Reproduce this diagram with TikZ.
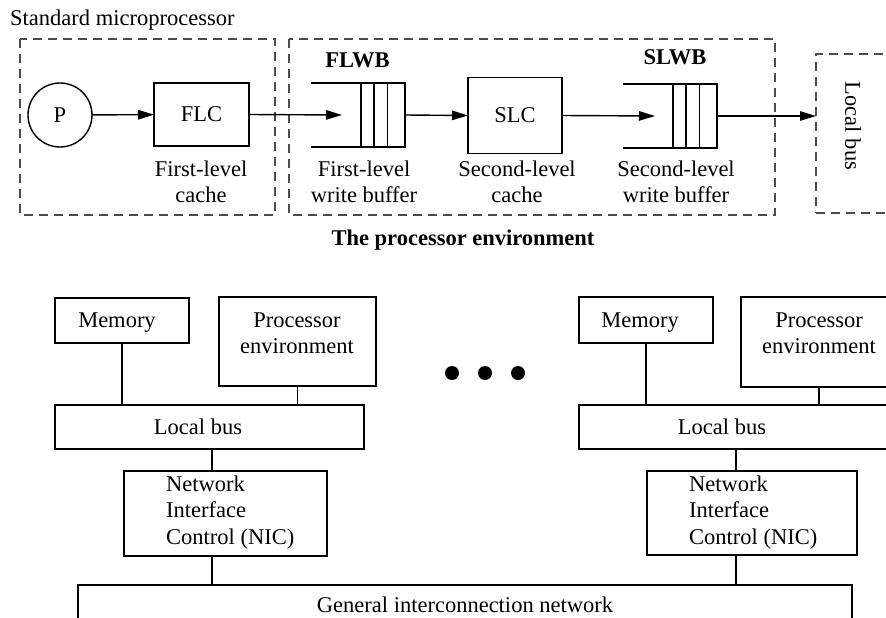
\documentclass[tikz,border=0pt]{standalone}
\usepackage{fontspec}
\setmainfont{Liberation Serif}
\usetikzlibrary{arrows.meta,calc}
\begin{document}
\begin{tikzpicture}[x=1pt,y=-1pt,
  every node/.style={font=\fontsize{22.5}{26}\selectfont},
  box/.style={draw, rectangle, inner sep=0pt, outer sep=0pt, line width=1.4pt},
  lbl/.style={inner sep=0pt, anchor=base},
  lblw/.style={inner sep=0pt, anchor=base west},
  bold/.style={font=\fontsize{22.5}{26}\selectfont\bfseries},
  frame/.style={draw=black!70, dash pattern=on 9pt off 6pt, line width=1.4pt},
  arr/.style={line width=1.4pt, -{Triangle[length=16pt,width=9.5pt]}},
  wire/.style={line width=1.4pt},
]
\useasboundingbox (0,0) rectangle (886,618);
\clip (0,0) rectangle (886,618);

% ---------- top: processor environment ----------
\node[lblw] (stdmp) at (10,26) {Standard microprocessor};
\draw[frame] (20,39) rectangle (275,215);
\draw[frame] (289,39) rectangle (775,215);

\node[draw, circle, line width=1.4pt, minimum size=64pt, inner sep=0pt, outer sep=0pt] (p) at (60,115) {P};
\node[box, minimum width=95pt, minimum height=63pt] (flc) at (201.5,114.5) {FLC};
\node[box, minimum width=44pt, minimum height=64pt] (flwb) at (383,115) {};
\draw[wire] ($(flwb.north west)+(13,0)$) -- ($(flwb.south west)+(13,0)$);
\draw[wire] ($(flwb.north west)+(26.5,0)$) -- ($(flwb.south west)+(26.5,0)$);
\draw[wire] (flwb.north west) -- ++(-50,0);
\draw[wire] (flwb.south west) -- ++(-50,0);
\node[box, minimum width=94pt, minimum height=76pt] (slc) at (515,115.5) {SLC};
\node[box, minimum width=44pt, minimum height=64pt] (slwb) at (695,116) {};
\draw[wire] ($(slwb.north west)+(13,0)$) -- ($(slwb.south west)+(13,0)$);
\draw[wire] ($(slwb.north west)+(26.5,0)$) -- ($(slwb.south west)+(26.5,0)$);
\draw[wire] (slwb.north west) -- ++(-50,0);
\draw[wire] (slwb.south west) -- ++(-50,0);
\node[frame, rectangle, inner sep=0pt, outer sep=0pt, minimum width=134pt, minimum height=159pt] (lbt) at (883,133.5) {};
\node[rotate=-90, inner sep=0pt] (lbttext) at (853,126) {Local bus};

\draw[arr] (p) -- (flc);
\draw[arr] (flc.east) -- ($(flwb.west)+(-19,0)$);
\draw[arr] (flwb.east) -- (slc.west);
\draw[arr] (slc.east) -- ($(slwb.west)+(-18,0)$);
\draw[arr] (slwb.east) -- (lbt.west |- slwb.east);

\node[lbl, bold] (flwbt) at (357.5,67) {FLWB};
\node[lbl, bold] (slwbt) at (675,64) {SLWB};
\node[lbl] (c1a) at (201,176) {First-level};
\node[lbl] (c1b) at (201,202) {cache};
\node[lbl] (w1a) at (364,176) {First-level};
\node[lbl] (w1b) at (364,202) {write buffer};
\node[lbl] (c2a) at (517,176) {Second-level};
\node[lbl] (c2b) at (517,202) {cache};
\node[lbl] (w2a) at (676,176) {Second-level};
\node[lbl] (w2b) at (676,202) {write buffer};
\node[lbl, bold] (title) at (463,245) {The processor environment};

% ---------- bottom: system ----------
\node[box, minimum width=134pt, minimum height=45pt] (mem1) at (122,320.5) {};
\node[lbl] (mem1t) at (117,327) {Memory};
\node[box, minimum width=157pt, minimum height=89pt] (proc1) at (297.5,341.5) {};
\node[lbl] (proc1a) at (297,327) {Processor};
\node[lbl] (proc1b) at (297,353) {environment};
\node[box, minimum width=309pt, minimum height=44pt] (lb1) at (209.5,427) {};
\node[lbl] (lb1t) at (198,434) {Local bus};
\node[box, minimum width=203pt, minimum height=85pt] (nic1) at (225.5,513.5) {};
\node[lblw] (nic1a) at (166,491) {Network};
\node[lblw] (nic1b) at (166,517.5) {Interface};
\node[lblw] (nic1c) at (166,544) {Control (NIC)};

\node[box, minimum width=134pt, minimum height=46pt] (mem2) at (646,320) {};
\node[lbl] (mem2t) at (640,327) {Memory};
\node[box, minimum width=156pt, minimum height=90pt] (proc2) at (819,342) {};
\node[lbl] (proc2a) at (819,327) {Processor};
\node[lbl] (proc2b) at (819,353) {environment};
\node[box, minimum width=341pt, minimum height=44pt] (lb2) at (749.5,427) {};
\node[lbl] (lb2t) at (722,434) {Local bus};
\node[box, minimum width=210pt, minimum height=84pt] (nic2) at (752,513) {};
\node[lblw] (nic2a) at (689,491) {Network};
\node[lblw] (nic2b) at (689,517.5) {Interface};
\node[lblw] (nic2c) at (689,544) {Control (NIC)};

\node[box, minimum width=774pt, minimum height=75pt] (net) at (465,622.5) {};
\node[lbl] (nett) at (465,612) {General interconnection network};

\foreach \x in {452,485,518}
  \fill (\x,373) circle (7);

\coordinate (j1) at (212,0);
\coordinate (j2) at (736,0);
\draw[wire] (mem1.south) -- (mem1.south |- lb1.north);
\draw[wire] (proc1.south) -- (proc1.south |- lb1.north);
\draw[wire] (j1 |- lb1.south) -- (j1 |- nic1.north);
\draw[wire] (j1 |- nic1.south) -- (j1 |- net.north);
\draw[wire] (mem2.south) -- (mem2.south |- lb2.north);
\draw[wire] (proc2.south) -- (proc2.south |- lb2.north);
\draw[wire] (j2 |- lb2.south) -- (j2 |- nic2.north);
\draw[wire] (j2 |- nic2.south) -- (j2 |- net.north);
\end{tikzpicture}
\end{document}
